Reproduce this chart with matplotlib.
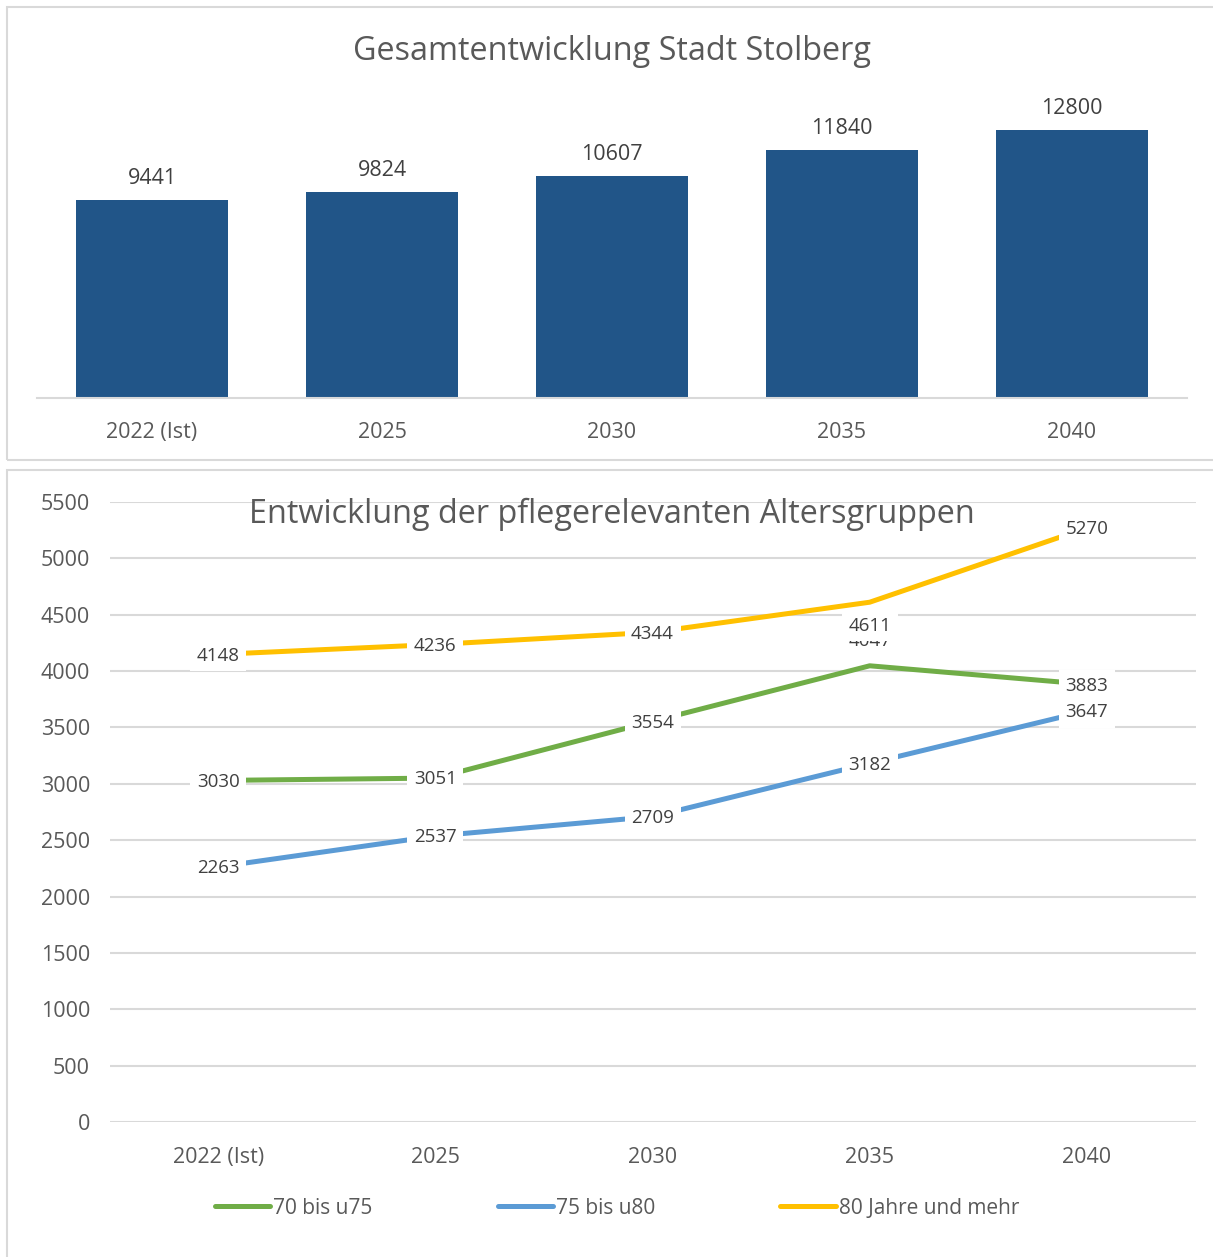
import numpy as np
import matplotlib.pyplot as plt
from matplotlib.patches import Rectangle

plt.rcParams['font.family'] = ['Open Sans', 'DejaVu Sans']

# daten
jahre = ["2022 (Ist)", "2025", "2030", "2035", "2040"]
gesamt = [9441, 9824, 10607, 11840, 12800]

gruppen = ["70 bis u75", "75 bis u80", "80 Jahre und mehr"]
g70_75 = [3030, 3051, 3554, 4047, 3883]
g75_80 = [2263, 2537, 2709, 3182, 3647]
g80 = [4148, 4236, 4344, 4611, 5270]

farben = ["#70AD47", "#5B9BD5", "#FFC000"]
grau = "#595959"
linie = "#D9D9D9"

W, H = 1213, 1257
fig = plt.figure(figsize=(W / 100, H / 100), dpi=100)

def px(x0, y0, x1, y1):
    # pixel box -> figure coords
    return [x0 / W, 1 - y1 / H, (x1 - x0) / W, (y1 - y0) / H]

# rahmen um beide diagramme
for y0, y1 in [(7, 460), (470, 1266)]:
    r = px(7, y0, 1225, y1)
    fig.add_artist(Rectangle((r[0], r[1]), r[2], r[3], transform=fig.transFigure,
                             fill=False, ec=linie, lw=1.5))

#                               BALKEN

ax1 = fig.add_axes(px(37, 105, 1187, 398))
x = np.arange(len(jahre))
bars = ax1.bar(x, gesamt, width=0.665, color="#215588")
ax1.bar_label(bars, labels=[str(v) for v in gesamt], padding=8, fontsize=15.5, color="#404040")
ax1.set_xlim(-0.5, len(jahre) - 0.5)
ax1.set_ylim(0, 14000)
ax1.set_xticks(x, jahre)
ax1.tick_params(axis='x', length=0, pad=17, labelsize=15.5, labelcolor=grau)
ax1.set_yticks([])
for s in ["top", "right", "left"]:
    ax1.spines[s].set_visible(False)
ax1.spines["bottom"].set_color(linie)
ax1.spines["bottom"].set_linewidth(1.5)
fig.text(612 / W, 1 - 52 / H, "Gesamtentwicklung Stadt Stolberg", ha='center', va='center',
         fontsize=23.3, color=grau)

#                               LINIEN

ax2 = fig.add_axes(px(109.5, 502, 1195.5, 1122))
ax2.set_xlim(-0.5, len(jahre) - 0.5)
ax2.set_ylim(0, 5500)
ax2.set_yticks(np.arange(0, 5501, 500))
ax2.set_xticks(x, jahre)
ax2.grid(axis='y', color=linie, lw=1.5)
ax2.set_axisbelow(True)
for s in ax2.spines.values():
    s.set_visible(False)
ax2.tick_params(length=0, labelsize=15.5, labelcolor=grau)
ax2.tick_params(axis='x', pad=18)
ax2.tick_params(axis='y', pad=14)

reihen = [g70_75, g75_80, g80]
for werte, farbe, name in zip(reihen, farben, gruppen):
    ax2.plot(x, werte, color=farbe, lw=3.6, label=name, solid_capstyle='round', zorder=3)

# beschriftungen mit weissem hintergrund, 2035 oben/unten verschoben
versatz = {(0, 3): 18, (2, 3): -17}
for i, werte in enumerate(reihen):
    for j, v in enumerate(werte):
        dy = versatz.get((i, j), -1)
        ax2.annotate(str(v), (x[j], v), xytext=(0, dy), textcoords='offset points',
                     ha='center', va='center', fontsize=13.5, color="#404040", zorder=5 + i,
                     bbox=dict(boxstyle='square,pad=0.35', fc='white', ec='none'))

fig.text(612 / W, 1 - 514 / H, "Entwicklung der pflegerelevanten Altersgruppen", ha='center',
         va='center', fontsize=23.3, color=grau)

leg = fig.legend(loc='center', bbox_to_anchor=(617 / W, 1 - 1208 / H), ncol=3, frameon=False,
                 fontsize=15, handlelength=2.65, handletextpad=0.15, columnspacing=6.0,
                 labelcolor=grau)

plt.savefig("out.png", dpi=100)
